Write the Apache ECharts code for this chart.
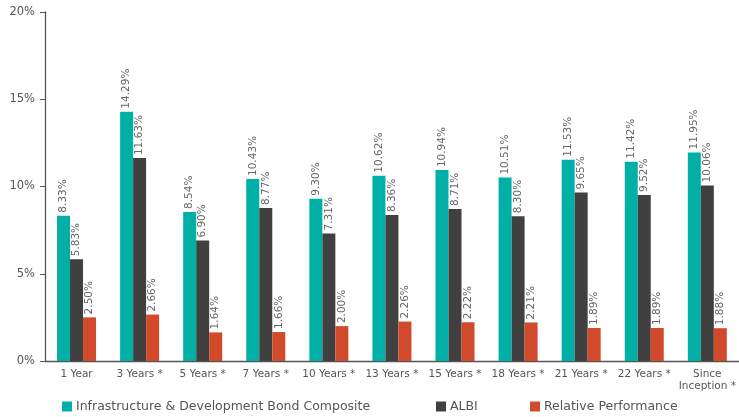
<!DOCTYPE html>
<html><head><meta charset="utf-8">
<script src="https://cdn.jsdelivr.net/npm/echarts@6/dist/echarts.min.js"></script>
<style>html,body{margin:0;padding:0;background:#fff}#c{width:739px;height:417px}</style>
</head><body><div id="c"></div>
<script>
const categories = ['1 Year','3 Years *','5 Years *','7 Years *','10 Years *','13 Years *','15 Years *','18 Years *','21 Years *','22 Years *','Since\nInception *'];
const composite = [8.33,14.29,8.54,10.43,9.30,10.62,10.94,10.51,11.53,11.42,11.95];
const albi = [5.83,11.63,6.90,8.77,7.31,8.36,8.71,8.30,9.65,9.52,10.06];
const relative = [2.50,2.66,1.64,1.66,2.00,2.26,2.22,2.21,1.89,1.89,1.88];
const yTicks = [0,5,10,15,20];
const names = ['Infrastructure & Development Bond Composite','ALBI','Relative Performance'];
const colors = ['#00B0A7','#404040','#D24A2C'];
const FONT = 'DejaVu Sans';
const chart = echarts.init(document.getElementById('c'));
const label = {show:true, position:'top', rotate:90, align:'left', verticalAlign:'middle', distance:3,
  color:'#666', fontSize:10.5, fontFamily:FONT, formatter:p=>p.value.toFixed(2)+'%'};
const mk = (i,data)=>({name:names[i], type:'bar', data, barWidth:13, barGap:'0%', itemStyle:{color:colors[i]}, label});
const lg = (i,left)=>({data:[names[i]], left, top:395, itemWidth:10, itemHeight:10, itemGap:5, icon:'rect',
  textStyle:{color:'#555',fontSize:12.5,fontFamily:FONT, padding:[0,0,0,-1]}});
chart.setOption({
  animation:false,
  textStyle:{fontFamily:FONT},
  grid:{left:45,right:0,top:12,bottom:56,containLabel:false},
  legend:[lg(0,57), lg(1,431), lg(2,525)],
  xAxis:{type:'category', data:categories,
    axisLine:{lineStyle:{color:'#555',width:1.3}}, axisTick:{show:false},
    axisLabel:{color:'#555',fontSize:10.5,fontFamily:FONT,margin:7,interval:0,lineHeight:12.5}},
  yAxis:{type:'value', min:0, max:20, interval:5,
    axisLine:{show:true,lineStyle:{color:'#555',width:1.3}}, axisTick:{show:true,length:5,lineStyle:{color:'#555'}},
    splitLine:{show:false},
    axisLabel:{color:'#555',fontSize:11.5,fontFamily:FONT,margin:10,formatter:v=>yTicks.includes(v)?v+'%':''}},
  series:[mk(0,composite),mk(1,albi),mk(2,relative)]
});
</script></body></html>
